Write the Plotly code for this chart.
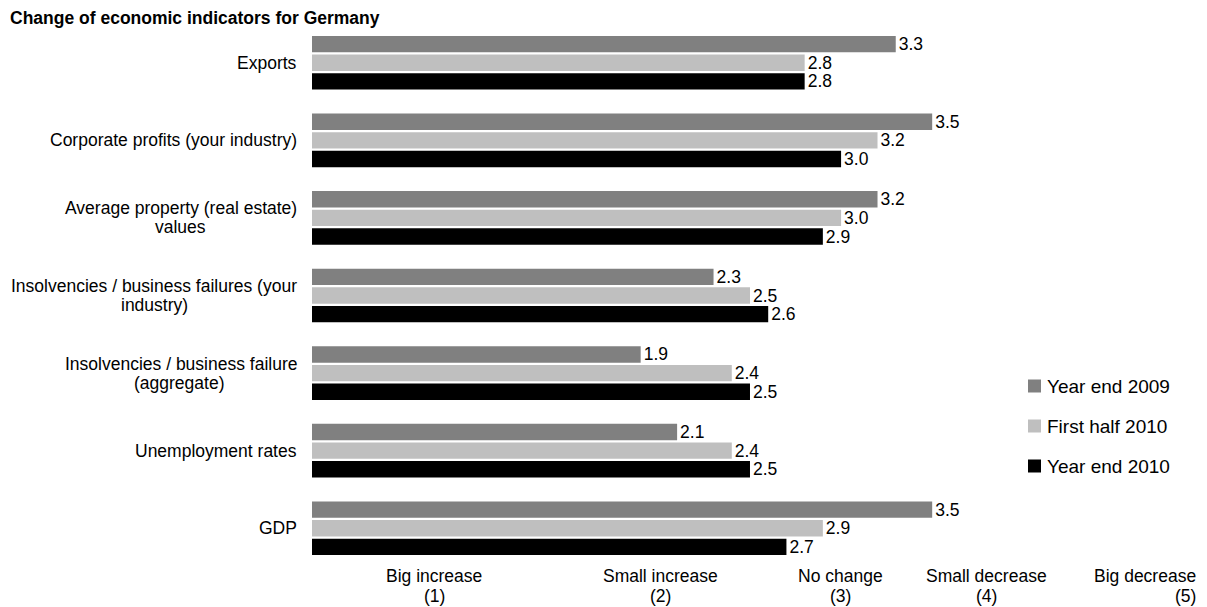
import plotly.graph_objects as go

# ---- data ---------------------------------------------------------------
categories = [
    "Exports",
    "Corporate profits (your industry)",
    "Average property (real estate) values",
    "Insolvencies / business failures (your industry)",
    "Insolvencies / business failure (aggregate)",
    "Unemployment rates",
    "GDP",
]
# label lines as they are wrapped next to the bars
category_lines = [
    ["Exports"],
    ["Corporate profits (your industry)"],
    ["Average property (real estate)", "values"],
    ["Insolvencies / business failures (your", "industry)"],
    ["Insolvencies / business failure", "(aggregate)"],
    ["Unemployment rates"],
    ["GDP"],
]
year_end_2009 = [3.3, 3.5, 3.2, 2.3, 1.9, 2.1, 3.5]
first_half_2010 = [2.8, 3.2, 3.0, 2.5, 2.4, 2.4, 2.9]
year_end_2010 = [2.8, 3.0, 2.9, 2.6, 2.5, 2.5, 2.7]
series_names = ["Year end 2009", "First half 2010", "Year end 2010"]
scale_top = ["Big increase", "Small increase", "No change", "Small decrease", "Big decrease"]
scale_bottom = ["(1)", "(2)", "(3)", "(4)", "(5)"]
title_text = "Change of economic indicators for Germany"

# ---- styling / layout ---------------------------------------------------
W, H = 1207, 607
PLOT_L, PLOT_R, PLOT_T, PLOT_B = 312, 1200, 24, 567
FONT = "Arial, Liberation Sans, sans-serif"
TXT = "#000000"
colors = ["#808080", "#bfbfbf", "#000000"]
LABEL_RIGHT = 299          # right edge of the category label block (px)
LINE_PITCH = 19            # line spacing of wrapped category labels (px)


def fx(px):
    return (px - PLOT_L) / (PLOT_R - PLOT_L)


def fy(py):
    return (PLOT_B - py) / (PLOT_B - PLOT_T)


fig = go.Figure()
for name, vals, col in zip(series_names, [year_end_2009, first_half_2010, year_end_2010], colors):
    fig.add_trace(go.Bar(
        name=name,
        y=categories,
        x=vals,
        orientation="h",
        marker=dict(color=col, line=dict(width=0)),
        text=vals,
        texttemplate="%{x:.1f}",
        textposition="outside",
        constraintext="none",
        cliponaxis=False,
        textfont=dict(family=FONT, size=17.5, color=TXT),
        showlegend=False,
    ))

annotations = []
# category labels: first line right-aligned, second line centred under it
second_line_centre = {2: 180, 3: 154, 4: 179}
for i, (cat, lines) in enumerate(zip(categories, category_lines)):
    if len(lines) == 1:
        annotations.append(dict(
            x=fx(LABEL_RIGHT), xref="paper", xanchor="right",
            y=cat, yref="y", yanchor="middle",
            text=lines[0], showarrow=False,
            font=dict(family=FONT, size=17.5, color=TXT),
        ))
    else:
        annotations.append(dict(
            x=fx(LABEL_RIGHT), xref="paper", xanchor="right",
            y=cat, yref="y", yanchor="middle", yshift=LINE_PITCH / 2,
            text=lines[0], showarrow=False,
            font=dict(family=FONT, size=17.5, color=TXT),
        ))
        annotations.append(dict(
            x=fx(second_line_centre[i]), xref="paper", xanchor="center",
            y=cat, yref="y", yanchor="middle", yshift=-LINE_PITCH / 2,
            text=lines[1], showarrow=False,
            font=dict(family=FONT, size=17.5, color=TXT),
        ))

# response scale along the bottom
scale_x = [434, 660, 840, 986, 1198]
for i, (top, bot) in enumerate(zip(scale_top, scale_bottom)):
    anchor = "right" if i == len(scale_top) - 1 else "center"
    for txt, py in ((top, 576), (bot, 596)):
        annotations.append(dict(
            x=fx(scale_x[i]), xref="paper", xanchor=anchor,
            y=fy(py), yref="paper", yanchor="middle",
            text=txt, showarrow=False,
            font=dict(family=FONT, size=17.5, color=TXT),
        ))

# legend: swatch + label
shapes = []
legend_y = [386, 426, 466]
for name, col, py in zip(series_names, colors, legend_y):
    shapes.append(dict(
        type="rect", xref="paper", yref="paper",
        x0=fx(1028), x1=fx(1041), y0=fy(py + 6.5), y1=fy(py - 6.5),
        fillcolor=col, line=dict(width=0),
    ))
    annotations.append(dict(
        x=fx(1045), xref="paper", xanchor="left",
        y=fy(py), yref="paper", yanchor="middle",
        text=name, showarrow=False,
        font=dict(family=FONT, size=19, color=TXT),
    ))

fig.update_layout(
    width=W, height=H,
    margin=dict(l=PLOT_L, r=W - PLOT_R, t=PLOT_T, b=H - PLOT_B, pad=0),
    paper_bgcolor="white", plot_bgcolor="white",
    barmode="group", bargap=0.28, bargroupgap=0.12,
    title=dict(
        text=title_text, x=10 / W, xref="container", xanchor="left",
        y=1 - 17.5 / H, yref="container", yanchor="middle",
        font=dict(family=FONT, size=17.5, color=TXT, weight="bold"),
    ),
    xaxis=dict(range=[0.096, 4.97], showgrid=False, zeroline=False,
               showticklabels=False, showline=False, ticks=""),
    yaxis=dict(categoryorder="array", categoryarray=categories,
               range=[6.5, -0.5], showgrid=False, zeroline=False,
               showticklabels=False, showline=False, ticks=""),
    annotations=annotations,
    shapes=shapes,
    showlegend=False,
    font=dict(family=FONT, color=TXT),
)

fig.write_html("out.html")
